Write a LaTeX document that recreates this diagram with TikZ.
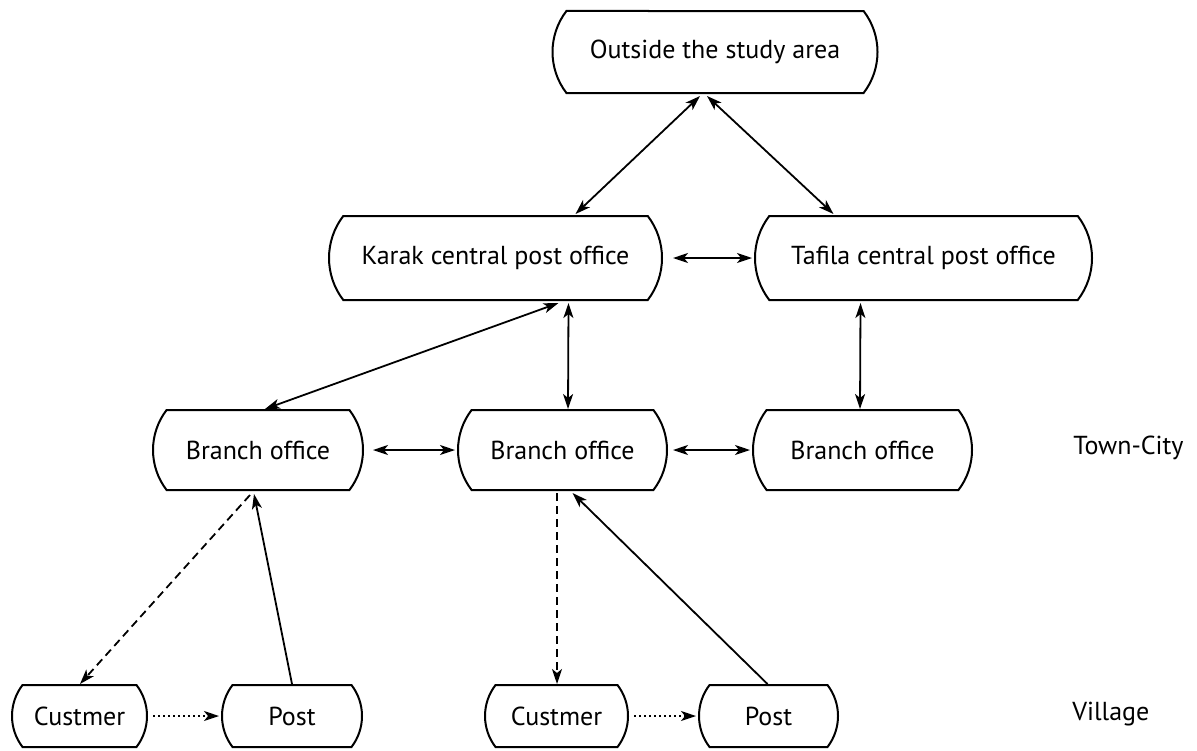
\documentclass[tikz,border=0pt]{standalone}
\usepackage{fontspec}
\setmainfont{PT Sans}
\usetikzlibrary{shapes.misc,arrows.meta,calc}
\newcommand{\lblfont}{\fontsize{13}{15}\selectfont}
\tikzset{
  box/.style={draw, line width=1pt, rounded rectangle, rounded rectangle arc length=75,
    inner sep=0pt, font=\lblfont},
  bi/.style={line width=0.9pt, {Stealth[length=7.5pt,width=5pt,inset=2pt]}-{Stealth[length=7.5pt,width=5pt,inset=2pt]}},
  uni/.style={line width=0.9pt, -{Stealth[length=7.5pt,width=5pt,inset=2pt]}},
  dsh/.style={uni, dash pattern=on 4pt off 2.5pt},
  dot/.style={uni, dash pattern=on 1pt off 1.5pt},
  lvl/.style={font=\lblfont, anchor=west, inner sep=0pt}
}
\begin{document}
\begin{tikzpicture}[x=0.5pt,y=-0.5pt]
\useasboundingbox (0,0) rectangle (1197,750);
% nodes
\node[box, minimum width=162.5pt, minimum height=41pt] (out) at (715,52) {Outside the study area};
\node[box, minimum width=166.5pt, minimum height=42pt] (karak) at (495.5,258) {Karak central post office};
\node[box, minimum width=168.5pt, minimum height=42pt] (taf) at (923.5,258) {Tafila central post office};
\node[box, minimum width=105pt, minimum height=40pt] (b1) at (258,450) {Branch office};
\node[box, minimum width=104.5pt, minimum height=40pt] (b2) at (562.5,450) {Branch office};
\node[box, minimum width=109.5pt, minimum height=40pt] (b3) at (862.5,450) {Branch office};
\node[box, minimum width=67.5pt, minimum height=31pt] (cu1) at (79.5,716) {Custmer};
\node[box, minimum width=70pt, minimum height=31pt] (po1) at (292,716) {Post};
\node[box, minimum width=71.5pt, minimum height=31pt] (cu2) at (556.5,716) {Custmer};
\node[box, minimum width=69.5pt, minimum height=31pt] (po2) at (768.5,716) {Post};
\node[lvl] (tc) at (1073,448) {Town-City};
\node[lvl] (vil) at (1072,714) {Village};
% connectors
\draw[bi] ($(out.south)+(-15,2)$) -- ($(karak.north)+(80,-1)$);
\draw[bi] ($(out.south)+(-8,2)$) -- ($(taf.north)+(-90,-1)$);
\draw[bi] ($(karak.east)+(10,0)$) -- ($(taf.west)+(-2,0)$);
\draw[bi] ($(karak.south)+(63,2)$) -- ($(b1.north)+(7,0)$);
\draw[bi] ($(karak.south)+(73,2)$) -- ($(b2.north)+(5.5,0)$);
\draw[bi] ($(taf.south)+(-63,2)$) -- ($(b3.north)+(-2.5,0)$);
\draw[bi] ($(b1.east)+(9,0)$) -- ($(b2.west)+(-2,0)$);
\draw[bi] ($(b2.east)+(5,0)$) -- ($(b3.west)+(-2,0)$);
\draw[dsh] ($(b1.south)+(-8,4)$) -- ($(cu1.north)+(0.5,0)$);
\draw[uni] (po1.north) -- ($(b1.south)+(-4,3)$);
\draw[dsh] ($(b2.south)+(-5.5,2)$) -- ($(cu2.north)+(0.5,0)$);
\draw[uni] ($(po2.north)+(-1,0)$) -- ($(b2.south)+(10,2)$);
\draw[dot] ($(cu1.east)+(5,0)$) -- ($(po1.west)+(-2,0)$);
\draw[dot] ($(cu2.east)+(5,0)$) -- ($(po2.west)+(-2,0)$);
\end{tikzpicture}
\end{document}
